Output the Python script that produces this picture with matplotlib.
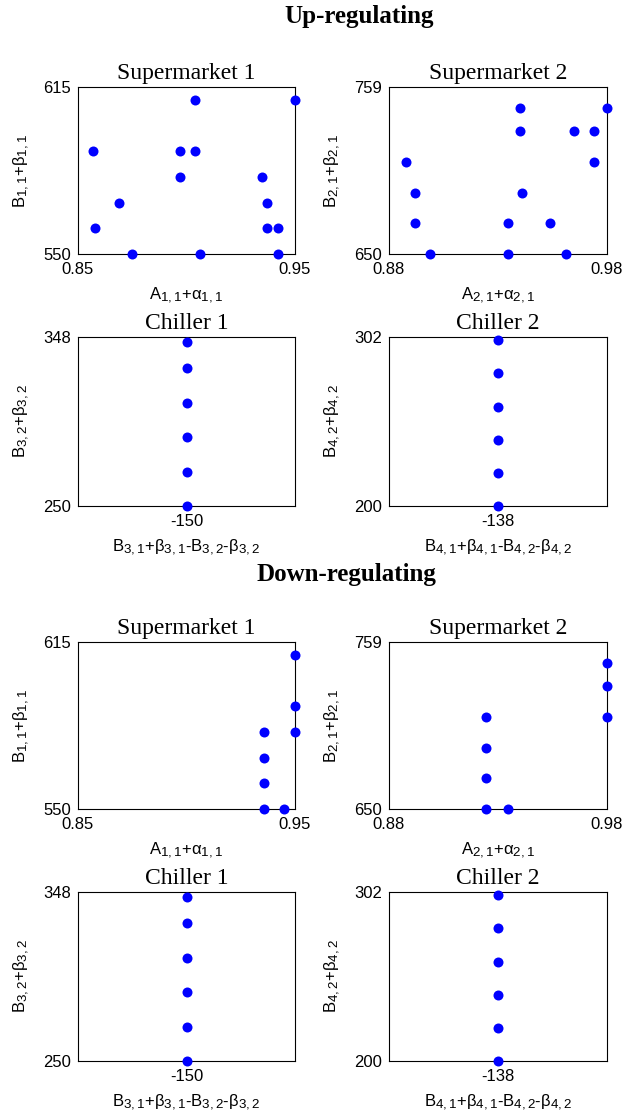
import matplotlib
matplotlib.use("Agg")
import matplotlib.pyplot as plt
try:
    import matplotlib._mathtext as _mt
    _mt.SHRINK_FACTOR = 0.8
except Exception:
    pass

plt.rcParams['font.family'] = ['Liberation Sans', 'DejaVu Sans']
plt.rcParams['mathtext.fontset'] = 'custom'
plt.rcParams['mathtext.rm'] = 'Liberation Sans'
plt.rcParams['mathtext.it'] = 'Liberation Sans:italic'
plt.rcParams['mathtext.bf'] = 'Liberation Sans:bold'
plt.rcParams['mathtext.default'] = 'rm'

# ---------------- data ----------------
# Up-regulating
up_sm1_x = [0.857, 0.904, 0.950, 0.897, 0.904, 0.897, 0.869, 0.858, 0.875, 0.906, 0.935, 0.937, 0.937, 0.942, 0.942]
up_sm1_y = [590, 610, 610, 590, 590, 580, 570, 560, 550, 550, 580, 570, 560, 560, 550]
up_sm2_x = [0.940, 0.940, 0.980, 0.965, 0.974, 0.888, 0.974, 0.892, 0.941, 0.892, 0.9345, 0.954, 0.899, 0.9345, 0.961]
up_sm2_y = [745, 730, 745, 730, 730, 710, 710, 690, 690, 670, 670, 670, 650, 650, 650]
up_ch1_x = [-150, -150, -150, -150, -150, -150]
up_ch1_y = [250, 270, 290, 310, 330, 345]
up_ch2_x = [-138, -138, -138, -138, -138, -138]
up_ch2_y = [200, 220, 240, 260, 280, 300]

# Down-regulating
dn_sm1_x = [0.950, 0.950, 0.950, 0.9357, 0.9357, 0.9357, 0.9357, 0.9448]
dn_sm1_y = [610, 590, 580, 580, 570, 560, 550, 550]
dn_sm2_x = [0.980, 0.980, 0.980, 0.9244, 0.9244, 0.9244, 0.9244, 0.9345]
dn_sm2_y = [745, 730, 710, 710, 690, 670, 650, 650]
dn_ch1_x = [-150, -150, -150, -150, -150, -150]
dn_ch1_y = [250, 270, 290, 310, 330, 345]
dn_ch2_x = [-138, -138, -138, -138, -138, -138]
dn_ch2_y = [200, 220, 240, 260, 280, 300]

# axis ranges / tick labels
sm1_xlim, sm1_ylim = (0.85, 0.95), (550, 615)
sm2_xlim, sm2_ylim = (0.88, 0.98), (650, 759)
ch1_xtick, ch1_ylim = -150, (250, 348)
ch2_xtick, ch2_ylim = -138, (200, 302)

titles = ["Supermarket 1", "Supermarket 2", "Chiller 1", "Chiller 2"]
xlabels = [r'$A_{1,1}$+$\alpha_{1,1}$', r'$A_{2,1}$+$\alpha_{2,1}$',
           r'$B_{3,1}$+$\beta_{3,1}$-$B_{3,2}$-$\beta_{3,2}$',
           r'$B_{4,1}$+$\beta_{4,1}$-$B_{4,2}$-$\beta_{4,2}$']
ylabels = [r'$B_{1,1}$+$\beta_{1,1}$', r'$B_{2,1}$+$\beta_{2,1}$',
           r'$B_{3,2}$+$\beta_{3,2}$', r'$B_{4,2}$+$\beta_{4,2}$']

W, H = 623, 1117
fig = plt.figure(figsize=(W / 100, H / 100), dpi=100)

cols = [(78, 295), (389, 607)]
rows = [(87, 254), (337, 506), (642, 809), (892, 1061)]


def make_ax(col, row):
    x0, x1 = cols[col]
    y0, y1 = rows[row]
    return fig.add_axes([x0 / W, 1 - y1 / H, (x1 - x0) / W, (y1 - y0) / H])


def style(ax, title, xl, yl, height_px, width_px):
    for s in ax.spines.values():
        s.set_linewidth(0.8)
        s.set_color('black')
    ax.tick_params(length=0, labelsize=12)
    ax.tick_params(axis='x', pad=6)
    ax.tick_params(axis='y', pad=5)
    ax.set_title(title, fontfamily='Liberation Serif', fontsize=17, pad=5.5)
    ax.set_xlabel(xl, fontsize=12)
    ax.set_ylabel(yl, fontsize=12)
    ax.xaxis.set_label_coords(0.5, -32 / height_px)
    ax.yaxis.set_label_coords(-46 / width_px, 0.5)


def fmt(v):
    return '%g' % v


panels = [
    (0, up_sm1_x, up_sm1_y, sm1_xlim, sm1_ylim, None),
    (1, up_sm2_x, up_sm2_y, sm2_xlim, sm2_ylim, None),
    (2, up_ch1_x, up_ch1_y, None, ch1_ylim, ch1_xtick),
    (3, up_ch2_x, up_ch2_y, None, ch2_ylim, ch2_xtick),
    (0, dn_sm1_x, dn_sm1_y, sm1_xlim, sm1_ylim, None),
    (1, dn_sm2_x, dn_sm2_y, sm2_xlim, sm2_ylim, None),
    (2, dn_ch1_x, dn_ch1_y, None, ch1_ylim, ch1_xtick),
    (3, dn_ch2_x, dn_ch2_y, None, ch2_ylim, ch2_xtick),
]

for i, (k, xs, ys, xlim, ylim, xt) in enumerate(panels):
    col = k % 2
    row = (i // 4) * 2 + (k // 2)
    ax = make_ax(col, row)
    ax.plot(xs, ys, 'o', color='#0000ff', markersize=7.2, markeredgewidth=0,
            clip_on=False, zorder=3)
    if xlim is not None:
        ax.set_xlim(*xlim)
        ax.set_xticks(list(xlim))
        ax.set_xticklabels([fmt(v) for v in xlim])
    else:
        ax.set_xlim(xt - 1, xt + 1)
        ax.set_xticks([xt])
        ax.set_xticklabels([fmt(xt)])
    ax.set_ylim(*ylim)
    ax.set_yticks(list(ylim))
    ax.set_yticklabels([fmt(v) for v in ylim])
    y0, y1 = rows[row]
    x0, x1 = cols[col]
    style(ax, titles[k], xlabels[k], ylabels[k], y1 - y0, x1 - x0)

fig.text(359 / W, 1 - 23 / H, 'Up-regulating', fontfamily='Liberation Serif',
         fontweight='bold', fontsize=18, ha='center', va='baseline')
fig.text(346 / W, 1 - 581 / H, 'Down-regulating', fontfamily='Liberation Serif',
         fontweight='bold', fontsize=18, ha='center', va='baseline')

fig.savefig('out.png', dpi=100)
